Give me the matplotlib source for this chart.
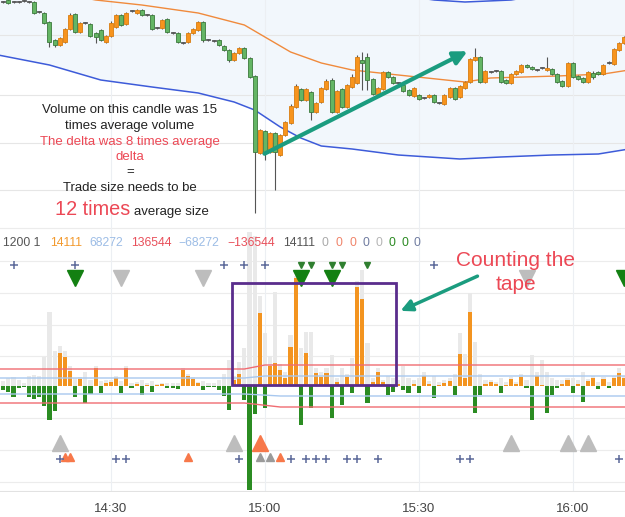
import numpy as np
import matplotlib
matplotlib.use('Agg')
import matplotlib.pyplot as plt
from matplotlib.patches import Rectangle

plt.rcParams['font.family'] = ['Liberation Sans', 'DejaVu Sans']

# one candle per minute, minutes after 14:00
minutes = np.arange(9, 131)

opens = [218, 220, 218, 218, 219, 218, 218, 208, 207, 198,
         180, 175, 178, 191, 206, 188, 197, 196, 187, 190,
         178, 184, 193, 205, 196, 209, 207, 210, 205, 205,
         192, 192, 201, 187, 187, 177, 178, 187, 190, 198,
         180, 179, 180, 174, 170, 160, 167, 172, 162, 144,
         67, 89, 68, 87, 65, 85, 97, 113, 131, 120,
         128, 108, 118, 131, 140, 108, 131, 113, 133, 137,
         160, 163, 141, 126, 131, 148, 143, 137, 135, 130,
         124, 125, 122, 123, 125, 117, 116, 123, 132, 123,
         132, 138, 160, 163, 138, 148, 149, 149, 140, 137,
         146, 148, 155, 153, 150, 152, 150, 151, 146, 139,
         134, 157, 144, 142, 138, 147, 148, 146, 157, 156,
         170, 177]
closes = [218, 217, 218, 218, 219, 218, 207, 208, 197, 178,
          175, 182, 191, 205, 188, 197, 197, 184, 183, 180,
          184, 197, 205, 195, 207, 209, 210, 205, 205, 191,
          192, 200, 188, 187, 178, 177, 187, 191, 198, 180,
          180, 179, 175, 170, 160, 167, 172, 162, 143, 68,
          90, 68, 87, 68, 85, 98, 114, 134, 120, 131,
          108, 117, 132, 139, 108, 129, 113, 135, 143, 163,
          157, 140, 126, 132, 148, 143, 137, 137, 129, 125,
          132, 121, 122, 125, 118, 117, 125, 132, 121, 134,
          138, 161, 163, 138, 149, 148, 149, 138, 137, 146,
          149, 155, 153, 151, 150, 152, 152, 146, 138, 134,
          157, 143, 141, 138, 148, 143, 146, 155, 157, 171,
          177, 183]
highs = [219, 221, 219, 219, 220, 219, 219, 209, 208, 199,
         181, 183, 192, 207, 207, 198, 198, 197, 188, 191,
         185, 199, 206, 206, 208, 210, 211, 211, 206, 206,
         193, 201, 202, 188, 188, 178, 188, 192, 199, 199,
         181, 180, 181, 175, 171, 168, 173, 173, 163, 145,
         91, 90, 88, 88, 86, 99, 116, 136, 132, 132,
         129, 118, 133, 141, 142, 130, 132, 136, 146, 165,
         168, 167, 142, 133, 149, 149, 144, 138, 136, 131,
         133, 126, 123, 126, 126, 118, 126, 133, 133, 135,
         139, 162, 172, 164, 150, 149, 150, 150, 141, 147,
         150, 156, 156, 154, 151, 153, 163, 152, 147, 140,
         158, 158, 145, 143, 149, 149, 149, 156, 159, 172,
         178, 184]
lows = [217, 216, 217, 217, 218, 217, 206, 207, 196, 173,
        173, 174, 177, 190, 187, 187, 196, 183, 177, 179,
        177, 183, 192, 194, 195, 208, 206, 204, 204, 190,
        191, 191, 187, 186, 177, 176, 177, 186, 189, 178,
        179, 178, 174, 169, 158, 159, 166, 161, 142, 7,
        66, 60, 67, 30, 64, 84, 96, 112, 119, 119,
        100, 107, 117, 130, 107, 107, 112, 112, 132, 136,
        130, 130, 125, 125, 130, 142, 136, 136, 128, 124,
        123, 120, 121, 122, 117, 116, 115, 122, 120, 122,
        131, 137, 159, 137, 137, 147, 148, 137, 136, 136,
        145, 147, 152, 150, 149, 151, 149, 145, 137, 133,
        133, 142, 140, 137, 137, 141, 145, 145, 156, 155,
        169, 176]

# bands (minute, level)
mid_t = [20, 27, 36, 47, 56, 60, 65, 71, 77, 86, 99, 104, 117, 126, 131]
mid_v = [227, 220, 215, 207, 195, 183, 168, 157, 150, 145, 138, 142, 144, 146, 150]
lo_t = [8, 18, 28, 38, 47, 54, 58, 63, 67, 71, 77, 86, 98, 106, 116, 125, 131]
lo_v = [165, 155, 140, 133, 127, 118, 110, 93, 82, 74, 71, 65, 61, 63, 65, 66, 71]
up_t = [8, 40, 70, 85, 93, 99, 108, 115, 131]
up_v = [260, 250, 235, 226, 220, 218, 220, 226, 240]

# order-flow panel
delta = [-4, -6, -11, -2, -1, -11, -13, -11, -20, -34,
         -25, 33, 29, 15, -11, 7, -17, -8, 18, -7,
         3, 4, 8, -7, 18, -2, 2, -9, 1, -6,
         1, 2, -2, -2, -3, 16, 10, 7, 3, -4,
         -1, -1, -4, -10, -24, 6, 12, -14, -104, -28,
         73, -22, 20, 23, 16, 8, 39, 108, -39, 33,
         -22, 13, 9, 13, -32, 4, -19, 9, -7, 99,
         87, -17, 4, 14, 4, -9, -6, 2, -4, -7,
         2, -7, 10, 2, -12, 1, 3, 5, -9, 32,
         8, 74, -27, -9, 2, 4, 2, -7, 1, 7,
         2, 9, -2, -34, 10, 1, -27, -9, -2, 2,
         6, -7, 2, -16, 5, 8, -3, 7, -2, 8,
         13, 8]
volume = [5, 8, 9, 6, 3, 10, 11, 10, 29, 74,
          35, 40, 35, 20, 8, 9, 14, 6, 20, 5,
          6, 6, 10, 5, 20, 3, 4, 6, 3, 5,
          2, 3, 3, 3, 3, 18, 12, 9, 4, 5,
          3, 3, 6, 12, 26, 10, 24, 38, 154, 150,
          90, 53, 30, 94, 22, 14, 51, 110, 38, 54,
          54, 18, 14, 18, 31, 8, 18, 12, 28, 105,
          116, 43, 8, 18, 6, 10, 8, 6, 20, 8,
          6, 8, 14, 5, 10, 4, 6, 8, 12, 53,
          32, 93, 44, 12, 6, 6, 4, 8, 4, 9,
          4, 12, 6, 31, 14, 26, 14, 8, 6, 6,
          8, 8, 6, 14, 7, 10, 4, 9, 4, 10,
          18, 10]
red_up_t, red_up_v = [8, 56, 60, 131], [17, 17, 21, 21]
red_lo_t, red_lo_v = [8, 56, 63, 131], [-17, -17, -21, -21]
blue_up_t, blue_up_v = [8, 56, 60, 131], [8, 8, 10, 10]
blue_lo_t, blue_lo_v = [8, 56, 63, 131], [-8, -8, -10, -10]

# signal markers
plus_top = [11, 23, 52, 56, 60, 93]
small_dn = [67, 69, 73, 75, 80]
big_dn_green = [23, 67, 73, 130]
big_dn_gray = [32, 48, 111]
big_up_gray = [20, 54, 108, 119, 123]
big_up_orange = [59]
small_up_orange = [21, 22, 45, 63]
small_up_gray = [59, 61]
plus_bot = [20, 31, 33, 55, 65, 68, 70, 72, 76, 78, 82, 98, 100, 129]

tick_min = [30, 60, 90, 120]
tick_lbl = ['14:30', '15:00', '15:30', '16:00']

row_txt = ['1200 1', '14111', '68272', '136544', '\u221268272', '\u2212136544', '14111',
           '0', '0', '0', '0', '0', '0', '0', '0']
row_col = ['#555555', '#f39a2e', '#9dbde6', '#e8505b', '#9dbde6', '#e8505b', '#555555',
           '#aaaaaa', '#f0846a', '#f0846a', '#6f7ba0', '#b5b5b5', '#2b8a22', '#2b8a22', '#6f7ba0']
row_x = [3, 50, 89, 131, 178, 227, 283, 322, 335, 349, 362, 375, 389, 402, 414]

W, H = 625.0, 517.0
fig = plt.figure(figsize=(6.25, 5.17), dpi=100)
ax1 = fig.add_axes([0, 1 - 226 / H, 1, 226 / H])
ax2 = fig.add_axes([0, 25 / H, 1, 266 / H])
xlim = (8.36, 130.2)

# ---- price panel
ax1.fill(np.r_[lo_t, up_t[::-1]], np.r_[lo_v, up_v[::-1]], color='#f2f7fc', lw=0, zorder=0)
for lv in [185, 125, 77, 30]:
    ax1.axhline(lv, color='#e6e6e6', lw=0.8, zorder=0.5)
for t in tick_min:
    ax1.axvline(t, color='#eceff3', lw=0.8, zorder=0.5)
ax1.plot(mid_t, mid_v, color='#f08a3c', lw=1.0, zorder=1)
ax1.plot(lo_t, lo_v, color='#3d5bd9', lw=1.1, zorder=1)
ax1.plot(up_t, up_v, color='#3d5bd9', lw=1.1, zorder=1)

o = np.array(opens)
c = np.array(closes)
body_col = np.where(c > o, '#f7941d', np.where(c < o, '#64b564', '#666666'))
edge_col = np.where(c > o, '#d97d10', np.where(c < o, '#3c7a3c', '#555555'))
ax1.vlines(minutes, lows, highs, color='#555555', lw=0.8, zorder=2)
ax1.bar(minutes, np.maximum(np.abs(c - o), 0.8), bottom=np.minimum(o, c), width=0.78,
        color=body_col, edgecolor=edge_col, linewidth=0.6, zorder=3)
ax1.set_xlim(*xlim)
ax1.set_ylim(-6, 220)
ax1.set_axis_off()

# ---- order-flow panel
for lv in [158, 125, 93, 61, 30, -32, -64, -96]:
    ax2.axhline(lv, color='#ececec', lw=0.8, zorder=0)
for t in tick_min:
    ax2.axvline(t, color='#eceff3', lw=0.8, zorder=0)
ax2.bar(minutes, volume, width=0.8, color='#e9e9e9', zorder=1)
d = np.array(delta)
ax2.bar(minutes, d, width=0.8, color=np.where(d > 0, '#f39420', '#2b8c22'), zorder=2)
ax2.plot(red_up_t, red_up_v, color='#f06c72', lw=1.0, zorder=3)
ax2.plot(red_lo_t, red_lo_v, color='#f06c72', lw=1.0, zorder=3)
ax2.plot(blue_up_t, blue_up_v, color='#a8c8ef', lw=1.0, zorder=3)
ax2.plot(blue_lo_t, blue_lo_v, color='#a8c8ef', lw=1.0, zorder=3)

mk = dict(linestyle='none', zorder=5)
ax2.plot(plus_top, [121] * len(plus_top), '+', ms=6, mew=1.1, color='#5c6a9a', **mk)
ax2.plot(small_dn, [121] * len(small_dn), 'v', ms=5, color='#2f7f2f', **mk)
ax2.plot(big_dn_green, [108] * len(big_dn_green), 'v', ms=11, color='#138012', **mk)
ax2.plot(big_dn_gray, [108] * len(big_dn_gray), 'v', ms=11, color='#bdbdbd', **mk)
ax2.plot(big_up_gray, [-57] * len(big_up_gray), '^', ms=12, color='#bdbdbd', **mk)
ax2.plot(big_up_orange, [-57] * len(big_up_orange), '^', ms=12, color='#f7784a', **mk)
ax2.plot(small_up_orange, [-71] * len(small_up_orange), '^', ms=6, color='#f7784a', **mk)
ax2.plot(small_up_gray, [-71] * len(small_up_gray), '^', ms=6, color='#9a9a9a', **mk)
ax2.plot(plus_bot, [-73] * len(plus_bot), '+', ms=6, mew=1.1, color='#5c6a9a', **mk)

ax2.add_patch(Rectangle((53.6, 1), 31.9, 102, fill=False, edgecolor='#5a2d8c', lw=2, zorder=6))

ax2.set_xlim(*xlim)
ax2.set_ylim(-106, 160)
ax2.set_xticks(tick_min)
ax2.set_xticklabels(tick_lbl)
ax2.set_yticks([])
ax2.tick_params(axis='x', length=0, pad=8, labelsize=9.5, colors='#444444')
for s in ax2.spines.values():
    s.set_visible(False)
ax2.axhline(-105, color='#e2e2e2', lw=0.8)


def fx(x):
    return x / W


def fy(y):
    return 1 - y / H


for t, col, x in zip(row_txt, row_col, row_x):
    fig.text(fx(x), fy(243), t, color=col, fontsize=8.8, ha='left', va='center')

# annotations
dark, red = '#222222', '#ec4855'
note = [('Volume on this candle was 15', 110, dark),
        ('times average volume', 126, dark),
        ('The delta was 8 times average', 142, red),
        ('delta', 157, red),
        ('=', 172, dark),
        ('Trade size needs to be', 188, dark)]
for t, y, col in note:
    fig.text(fx(130), fy(y), t, color=col, fontsize=9.5, ha='center', va='center')
fig.text(fx(55), fy(215), '12 times', color=red, fontsize=14.3, ha='left', va='baseline')
fig.text(fx(134), fy(215), 'average size', color=dark, fontsize=9.5, ha='left', va='baseline')

fig.text(fx(516), fy(260), 'Counting the', color=red, fontsize=15, ha='center', va='center')
fig.text(fx(516), fy(285), 'tape', color=red, fontsize=15, ha='center', va='center')

teal = '#1b9c7f'
ax1.annotate('', xy=(470, H - 50), xytext=(262, H - 155), xycoords='figure pixels',
             textcoords='figure pixels',
             arrowprops=dict(arrowstyle='-|>', color=teal, lw=3, mutation_scale=20), zorder=8)
ax2.annotate('', xy=(398, H - 312), xytext=(480, H - 275), xycoords='figure pixels',
             textcoords='figure pixels',
             arrowprops=dict(arrowstyle='-|>', color=teal, lw=2.5, mutation_scale=17), zorder=8)

fig.savefig('out.png', dpi=100)
